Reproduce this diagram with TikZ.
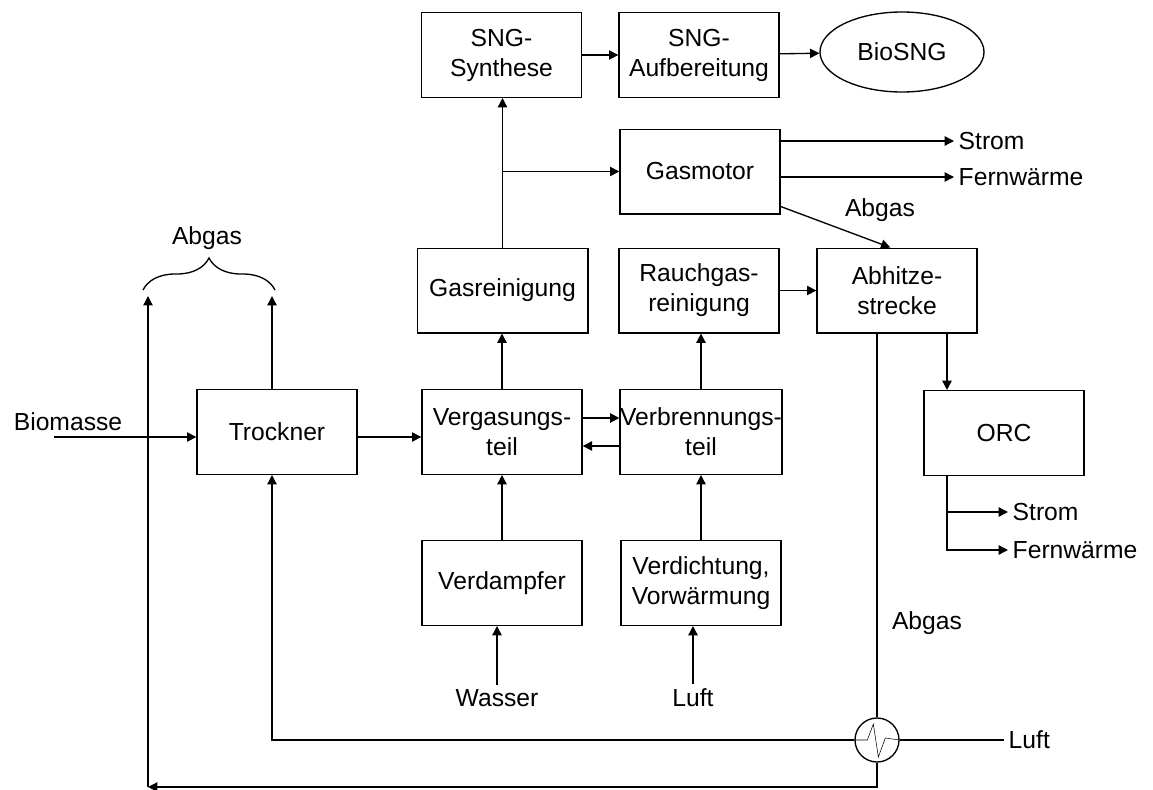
\documentclass[tikz,border=0pt]{standalone}
\usepackage{fontspec}
\setmainfont{Liberation Sans}
\usetikzlibrary{arrows.meta,shapes.geometric,decorations.pathreplacing}
\tikzset{
  block/.style={draw, line width=1pt, align=center, inner sep=0pt,
    minimum width=120pt, minimum height=63.5pt},
  flow/.style={-{Triangle[length=7pt,width=7pt]}, line width=1pt},
  line/.style={line width=1pt},
}
\begin{document}
\begin{tikzpicture}[x=0.75pt, y=-0.75pt, font=\fontsize{18.5}{22.5}\selectfont]
            \useasboundingbox (0,0) rectangle (1153,789);

            \node[block] (synth) at (501.5,55) {SNG-\\Synthese};
            \node[block] (aufb) at (699,55) {SNG-\\Aufbereitung};
            \node[ellipse, draw, line width=1pt, minimum width=123pt, minimum height=60pt] (biosng) at (902,52) {BioSNG};
            \node[block] (motor) at (700,171.5) {Gasmotor};

            \node[block, minimum width=128pt] (reinig) at (502.5,290.5) {Gasreinigung};
            \node[block] (rauch) at (699,290.5) {Rauchgas-\\reinigung};
            \node[block] (abhitze) at (897,290.5) {Abhitze-\\strecke};

            \node[block] (trockner) at (277,432) {Trockner};
            \node[block] (vergas) at (502,432) {Vergasungs-\\teil};
            \node[block] (verbrenn) at (701,432) {Verbrennungs-\\teil};
            \node[block] (orc) at (1004,433) {ORC};

            \node[block] (verdampf) at (502,583) {Verdampfer};
            \node[block] (verdicht) at (701,583) {Verdichtung,\\Vorw\"armung};

            \node (biomasse) at (68,422) {Biomasse};
            \node (wasser) at (497,698) {Wasser};
            \node (luftv) at (693,698) {Luft};
            \node[anchor=west] (strom1) at (954,141) {Strom};
            \node[anchor=west] (fw1) at (954,177) {Fernw\"arme};
            \node (abgas1) at (880,210) {Abgas};
            \node (abgas2) at (207,238) {Abgas};
            \node[anchor=west] (strom2) at (1008,512) {Strom};
            \node[anchor=west] (fw2) at (1008,550) {Fernw\"arme};
            \node (abgas3) at (927,623) {Abgas};
            \node[anchor=west] (luftw) at (1004,740) {Luft};

            % Waermetauscher
            \node[circle, draw, line width=1pt, minimum size=33pt, inner sep=0pt] (wt) at (877,740) {};
            \draw (wt.west) -- ++(13,0) -- ++(6,-16) -- ++(5,33) -- ++(7,-19) -- (wt.east);

            \coordinate (bin) at (54,437);
            \coordinate (bl) at (148,296);
            \coordinate (br) at (272,296);
            \coordinate (corner) at (148,787);
            \coordinate (ox) at (947,0);

            \draw[line, decorate, decoration={brace, amplitude=24pt}] (143,290) -- (275,290);

            \draw[flow] (bin) -- (bin -| trockner.west);
            \draw[flow] (bin -| trockner.east) -- (bin -| vergas.west);
            \draw[flow] (trockner.north -| br) -- (br);
            \draw[flow] ([yshift=10.5pt]vergas.east) -- ([yshift=10.5pt]vergas.east -| verbrenn.west);
            \draw[flow] ([yshift=-10.5pt]vergas.east -| verbrenn.west) -- ([yshift=-10.5pt]vergas.east);

            \draw[flow] (vergas.north) -- (vergas.north |- reinig.south);
            \draw[flow] (verbrenn.north) -- (verbrenn.north |- rauch.south);
            \draw[flow] (verdampf.north) -- (verdampf.north |- vergas.south);
            \draw[flow] (verdicht.north) -- (verdicht.north |- verbrenn.south);
            \draw[flow] (wasser) -- (wasser |- verdampf.south);
            \draw[flow] (luftv) -- (luftv |- verdicht.south);

            \draw[flow] (reinig.north) -- (reinig.north |- synth.south);
            \draw[flow] (reinig.north |- motor.west) -- (motor.west);
            \draw[flow] (synth) -- (aufb);
            \draw[flow] (aufb) -- (biosng);
            \draw[flow] (motor.east |- strom1) -- (strom1.west);
            \draw[flow] (motor.east |- fw1) -- (fw1.west);
            \draw[flow] ([yshift=6pt]motor.south east) -- ([xshift=-5pt]abhitze.north);
            \draw[flow] (rauch) -- (abhitze);

            \draw[flow] (abhitze.south -| ox) -- (orc.north -| ox);
            \draw[flow] (orc.south -| ox) |- (strom2.west);
            \draw[flow] (orc.south -| ox) |- (fw2.west);

            \draw[line] (abhitze.south -| wt.north) -- (wt.north);
            \draw[line] (wt.east) -- (luftw.west);
            \draw[flow] (wt.west) -| (br |- trockner.south);
            \draw[flow] (wt.south) |- (corner);
            \draw[flow] (corner) -- (bl);
\end{tikzpicture}
\end{document}
